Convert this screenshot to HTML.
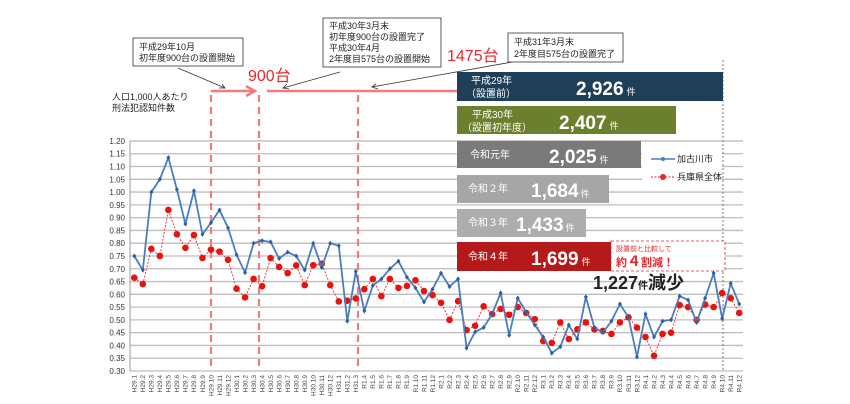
<!DOCTYPE html>
<html><head><meta charset="utf-8"><style>
html,body{margin:0;padding:0;background:#fff;}
svg{display:block;font-family:"Liberation Sans","Noto Sans CJK JP",sans-serif;}
</style></head><body>
<svg id="s" width="850" height="404" viewBox="0 0 850 404" xmlns="http://www.w3.org/2000/svg">
<rect width="850" height="404" fill="#fff"/>
<g id="grid"></g>
<g id="ylab" font-size="8" fill="#333" text-anchor="end"></g>
<g id="xlab" font-size="6.5" fill="#444"></g>
<!-- dashed verticals -->
<g stroke="#f37b7b" stroke-width="2.2" stroke-dasharray="7,5">
<line x1="211" y1="95" x2="211" y2="371"/>
<line x1="259" y1="95" x2="259" y2="371"/>
<line x1="358" y1="95" x2="358" y2="371"/>
</g>
<line x1="723" y1="60" x2="723" y2="371" stroke="#777" stroke-width="1" stroke-dasharray="2,2"/>
<g id="series"></g>
<!-- arrows -->
<g stroke="#f37b7b" stroke-width="2.5" fill="none">
<line x1="211" y1="91" x2="254" y2="91"/>
<polyline points="246,86 255,91 246,96"/>
<line x1="267" y1="91" x2="457" y2="91"/>
</g>
<g stroke="#333" stroke-width="0.8" fill="none">
<line x1="178" y1="68" x2="225" y2="88"/><polyline points="219,88 225,88 222,84"/>
<line x1="340" y1="72" x2="283" y2="88"/><polyline points="289,89 283,88 287,84"/>
<line x1="512" y1="62" x2="372" y2="87"/><polyline points="378,89 372,87 376,84"/>
</g>
<g fill="#fff" stroke="#333" stroke-width="0.8">
<rect x="133" y="38" width="110" height="28"/>
<rect x="323" y="18" width="118" height="49"/>
<rect x="508" y="33" width="115" height="29"/>
</g>
<g font-size="9" fill="#222">
<text x="139" y="50">平成29年10月</text><text x="139" y="61">初年度900台の設置開始</text>
<text x="329" y="29">平成30年3月末</text><text x="329" y="40">初年度900台の設置完了</text>
<text x="329" y="51">平成30年4月</text><text x="329" y="62">2年度目575台の設置開始</text>
<text x="514" y="45">平成31年3月末</text><text x="514" y="57">2年度目575台の設置完了</text>
<text x="112" y="100">人口1,000人あたり</text><text x="112" y="111">刑法犯認知件数</text>
</g>
<text x="248" y="81" font-size="16" fill="#e8262a">900台</text>
<text x="447" y="61" font-size="16" fill="#e8262a">1475台</text>
<!-- bars -->
<rect x="457" y="72" width="266" height="29" fill="#1f3f58"/>
<rect x="457" y="106" width="219" height="28" fill="#6b7f2c"/>
<rect x="457" y="141" width="184" height="27" fill="#7a7a7a"/>
<rect x="457" y="175" width="152" height="28" fill="#a6a6a6"/>
<rect x="457" y="209" width="129" height="28" fill="#adadad"/>
<rect x="457" y="242" width="154" height="29" fill="#b51a1a"/>
<rect x="611" y="241" width="114" height="30" fill="#fff" stroke="#e8262a" stroke-width="0.8" stroke-dasharray="3,2"/>
<g fill="#fff" font-size="10">
<text x="471" y="84">平成29年</text><text x="466" y="97">（設置前）</text>
<text x="472" y="118">平成30年</text><text x="462" y="131">（設置初年度）</text>
<text x="470" y="158">令和元年</text>
<text x="468" y="192">令和２年</text>
<text x="468" y="226">令和３年</text>
<text x="468" y="260">令和４年</text>
</g>
<g fill="#fff" font-weight="bold" font-size="19">
<text x="576" y="95">2,926<tspan font-size="9" font-weight="normal" dx="3">件</tspan></text>
<text x="559" y="129">2,407<tspan font-size="9" font-weight="normal" dx="3">件</tspan></text>
<text x="549" y="163">2,025<tspan font-size="9" font-weight="normal" dx="3">件</tspan></text>
<text x="531" y="197">1,684<tspan font-size="9" font-weight="normal" dx="2">件</tspan></text>
<text x="516" y="231">1,433<tspan font-size="9" font-weight="normal" dx="2">件</tspan></text>
<text x="531" y="265">1,699<tspan font-size="9" font-weight="normal" dx="3">件</tspan></text>
</g>
<text x="616" y="251" font-size="7" fill="#e8262a">設置前と比較して</text>
<text x="616" y="266" font-size="11" font-weight="bold" fill="#e8262a">約<tspan font-size="14">４</tspan>割減！</text>
<text x="593" y="289" font-size="18" font-weight="bold" fill="#222">1,227<tspan font-size="10">件</tspan>減少</text>
<!-- legend -->
<rect x="642" y="146" width="80" height="40" fill="#fff"/>
<line x1="651" y1="159" x2="675" y2="159" stroke="#4a7ebb" stroke-width="1.5"/>
<circle cx="663" cy="159" r="2" fill="#4a7ebb"/>
<text x="677" y="162" font-size="9" fill="#222">加古川市</text>
<line x1="651" y1="177" x2="675" y2="177" stroke="#e8262a" stroke-width="1" stroke-dasharray="2,1.5"/>
<circle cx="663" cy="177" r="3" fill="#e8262a"/>
<text x="677" y="180" font-size="9" fill="#222">兵庫県全体</text>
</svg>
<script>
var blue=[.75,.695,1.00,1.05,1.135,1.01,.875,1.005,.835,.88,.93,.86,
.755,.685,.80,.81,.805,.74,.765,.75,.695,.80,.705,.80,
.79,.495,.69,.535,.635,.66,.70,.73,.667,.625,.57,.62,
.683,.63,.66,.39,.453,.47,.523,.605,.44,.585,.53,.48,
.433,.37,.395,.48,.425,.59,.47,.45,.495,.562,.51,.355,
.523,.433,.495,.50,.593,.578,.49,.585,.683,.505,.643,.562];
var red=[.665,.64,.778,.75,.93,.835,.782,.832,.742,.775,.767,.735,
.622,.588,.66,.632,.742,.707,.683,.713,.636,.714,.72,.636,
.572,.575,.584,.62,.66,.593,.66,.625,.633,.655,.613,.597,
.567,.50,.573,.46,.477,.553,.523,.543,.52,.55,.527,.503,
.417,.41,.49,.425,.463,.49,.463,.457,.445,.49,.51,.47,
.433,.36,.445,.45,.558,.55,.50,.56,.55,.605,.585,.527];
var ns="http://www.w3.org/2000/svg";
function X(i){return 134.3+i*8.52;}
function Y(v){return 371-(v-0.30)/0.05*12.78;}
function el(p,t,a,txt){var e=document.createElementNS(ns,t);for(var k in a)e.setAttribute(k,a[k]);if(txt)e.textContent=txt;document.getElementById(p).appendChild(e);return e;}
for(var k=0;k<=18;k++){var v=0.30+k*0.05,y=Y(v);
el("grid","line",{x1:130,x2:743,y1:y,y2:y,stroke:"#bdbdbd","stroke-width":1.3});
el("ylab","text",{x:125,y:y+3},v.toFixed(2));}
el("grid","line",{x1:130,x2:130,y1:Y(1.2),y2:371,stroke:"#999","stroke-width":1});
var labs=[];
for(var i=0;i<12;i++)labs.push("H29."+(i+1));
for(var i=0;i<12;i++)labs.push("H30."+(i+1));
for(var i=0;i<3;i++)labs.push("H31."+(i+1));
for(var i=3;i<12;i++)labs.push("R1."+(i+1));
for(var yy=2;yy<=4;yy++)for(var i=0;i<12;i++)labs.push("R"+yy+"."+(i+1));
labs.forEach(function(l,i){var x=X(i)+2.3;el("xlab","text",{x:0,y:0,transform:"translate("+x+",375) rotate(-90)","text-anchor":"end"},l);});
var pb=blue.map(function(v,i){return X(i)+","+Y(v);}).join(" ");
var pr=red.map(function(v,i){return X(i)+","+Y(v);}).join(" ");
el("series","polyline",{points:pr,fill:"none",stroke:"#e8262a","stroke-width":0.9,"stroke-dasharray":"2,1.5"});
red.forEach(function(v,i){el("series","circle",{cx:X(i),cy:Y(v),r:3.3,fill:"#e8120f"});});
el("series","polyline",{points:pb,fill:"none",stroke:"#4a7ebb","stroke-width":1.8});
blue.forEach(function(v,i){el("series","path",{d:"M"+X(i)+","+(Y(v)-2.5)+"l2,2.5l-2,2.5l-2,-2.5z",fill:"#2f5f9f"});});
</script>
</body></html>
